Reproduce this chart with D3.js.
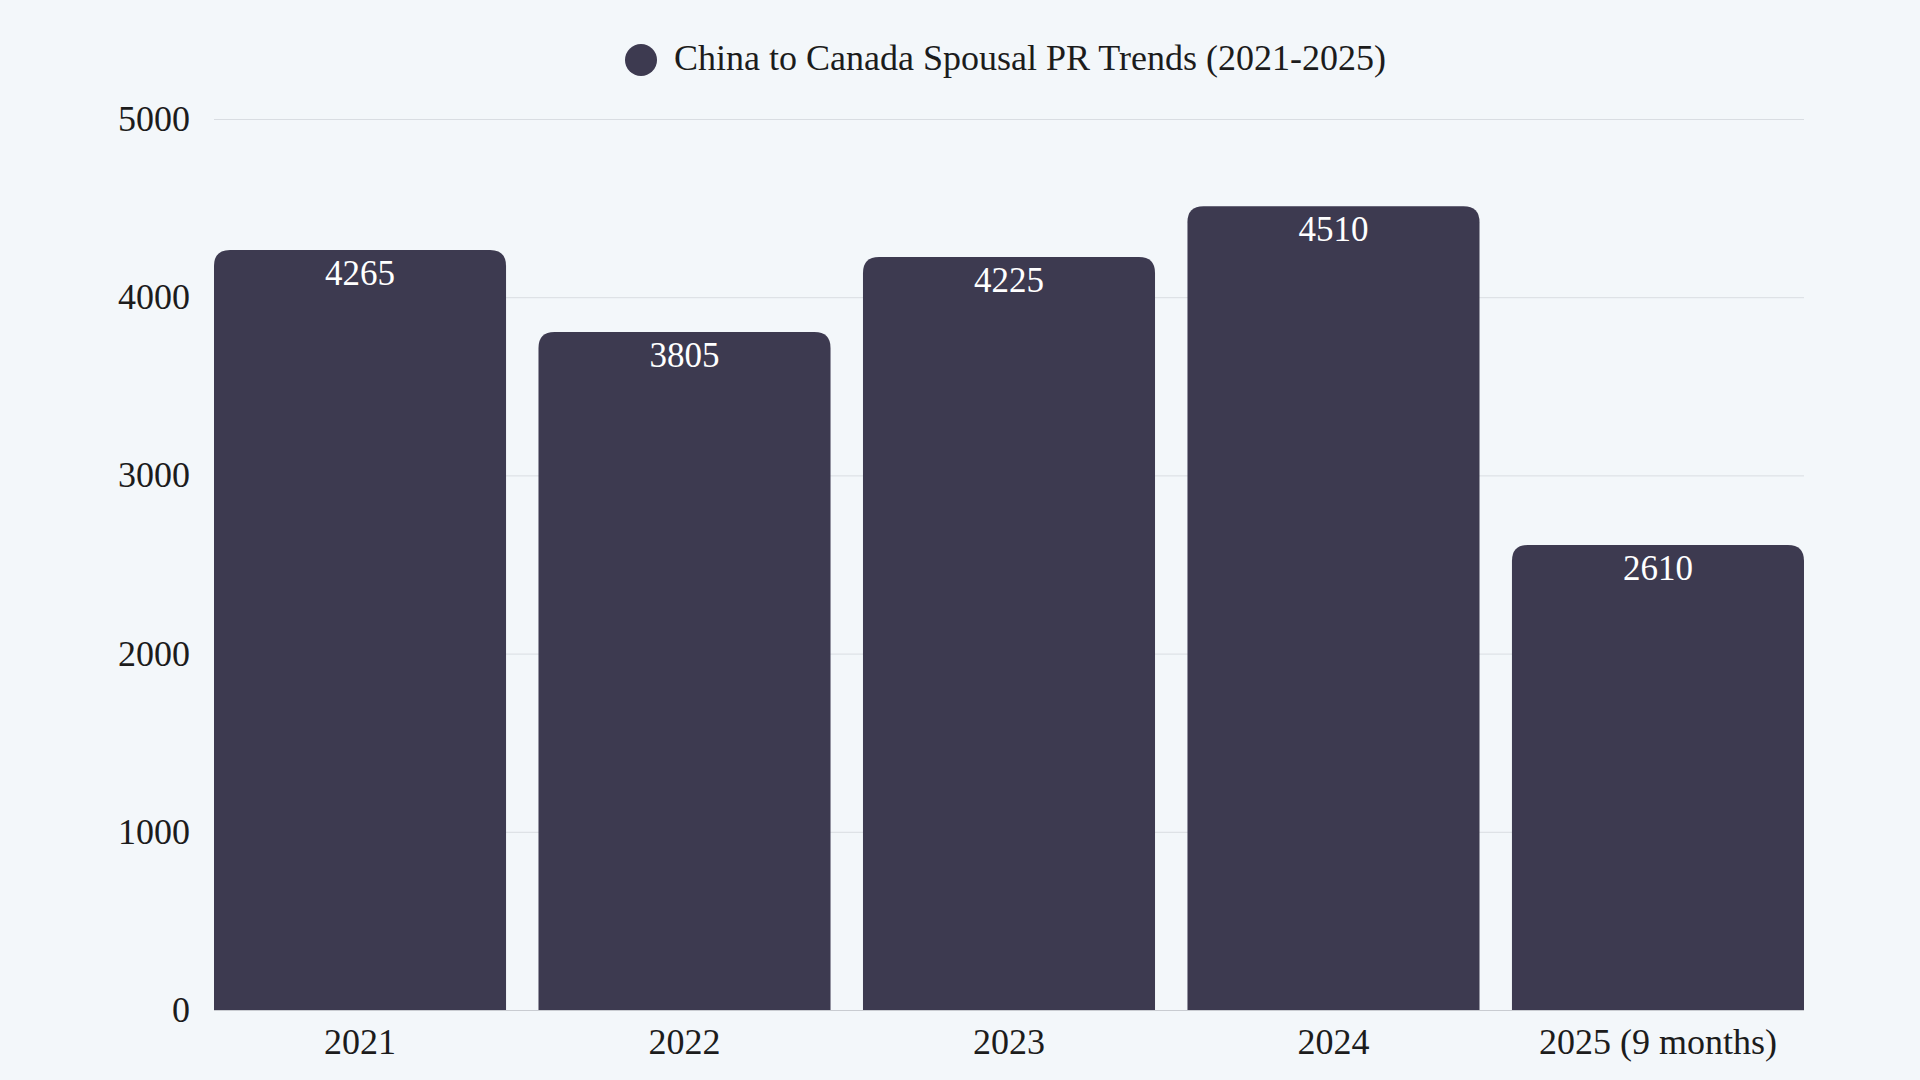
<!DOCTYPE html>
<html>
<head>
<meta charset="utf-8">
<script src="https://cdn.jsdelivr.net/npm/d3@7"></script>
<style>
  html, body { margin: 0; padding: 0; background: #f3f7fa; }
  svg { display: block; }
  text { font-family: "Liberation Serif", "DejaVu Serif", serif; }
</style>
</head>
<body>
<svg id="chart"></svg>
<script>
var width = 1920, height = 1080;

// data
var years = ['2021', '2022', '2023', '2024', '2025 (9 months)'];
var approvals = [4265, 3805, 4225, 4510, 2610];
var yTicks = [0, 1000, 2000, 3000, 4000, 5000];
var seriesName = 'China to Canada Spousal PR Trends (2021-2025)';

var barColor = '#3d3a50';
var margin = {top: 119, right: 116, bottom: 70, left: 214};

var svg = d3.select('#chart')
  .attr('width', width)
  .attr('height', height);

svg.append('rect')
  .attr('width', width)
  .attr('height', height)
  .attr('fill', '#f3f7fa');

var x = d3.scaleBand()
  .domain(years)
  .range([margin.left, width - margin.right])
  .paddingInner(0.1)
  .paddingOuter(0);

var y = d3.scaleLinear()
  .domain([0, 5000])
  .range([height - margin.bottom, margin.top]);

// gridlines
svg.append('g')
  .selectAll('line')
  .data(yTicks.filter(function(d) { return d > 0; }))
  .enter()
  .append('line')
  .attr('x1', margin.left)
  .attr('x2', width - margin.right)
  .attr('y1', function(d) { return y(d) + 0.5; })
  .attr('y2', function(d) { return y(d) + 0.5; })
  .attr('stroke', '#d9dde2')
  .attr('stroke-width', 1);

// y axis labels
var yAxis = d3.axisLeft(y)
  .tickValues(yTicks)
  .tickFormat(d3.format('d'))
  .tickSize(0)
  .tickPadding(24);
svg.append('g')
  .attr('transform', 'translate(' + margin.left + ',0)')
  .call(yAxis)
  .call(function(g) { g.select('.domain').remove(); })
  .selectAll('text')
  .attr('font-size', 36)
  .attr('fill', '#1c1c1c')
  .attr('font-family', '"Liberation Serif", serif');

// bars with rounded top corners
var r = 16;
function barPath(d, i) {
  var x0 = x(years[i]), w = x.bandwidth();
  var y0 = y(d), y1 = y(0);
  return 'M' + x0 + ',' + y1 +
    'V' + (y0 + r) +
    'Q' + x0 + ',' + y0 + ' ' + (x0 + r) + ',' + y0 +
    'H' + (x0 + w - r) +
    'Q' + (x0 + w) + ',' + y0 + ' ' + (x0 + w) + ',' + (y0 + r) +
    'V' + y1 + 'Z';
}

svg.append('g')
  .selectAll('path')
  .data(approvals)
  .enter()
  .append('path')
  .attr('d', barPath)
  .attr('fill', barColor);

// value labels inside bars
svg.append('g')
  .selectAll('text')
  .data(approvals)
  .enter()
  .append('text')
  .attr('x', function(d, i) { return x(years[i]) + x.bandwidth() / 2; })
  .attr('y', function(d) { return y(d) + 35; })
  .attr('text-anchor', 'middle')
  .attr('font-size', 35)
  .attr('fill', '#ffffff')
  .text(function(d) { return d; });

// x axis
var xAxis = d3.axisBottom(x).tickSize(0).tickPadding(18);
var gx = svg.append('g')
  .attr('transform', 'translate(0,' + y(0) + ')')
  .call(xAxis);
gx.select('.domain')
  .attr('stroke', '#c9ccd1')
  .attr('d', 'M' + margin.left + ',0.5H' + (width - margin.right));
gx.selectAll('text')
  .attr('font-size', 36)
  .attr('fill', '#1c1c1c')
  .attr('font-family', '"Liberation Serif", serif');

// legend
var legend = svg.append('g');
legend.append('circle')
  .attr('cx', 641)
  .attr('cy', 60)
  .attr('r', 16)
  .attr('fill', barColor);
legend.append('text')
  .attr('x', 674)
  .attr('y', 70)
  .attr('font-size', 36)
  .attr('fill', '#1c1c1c')
  .text(seriesName);
</script>
</body>
</html>
